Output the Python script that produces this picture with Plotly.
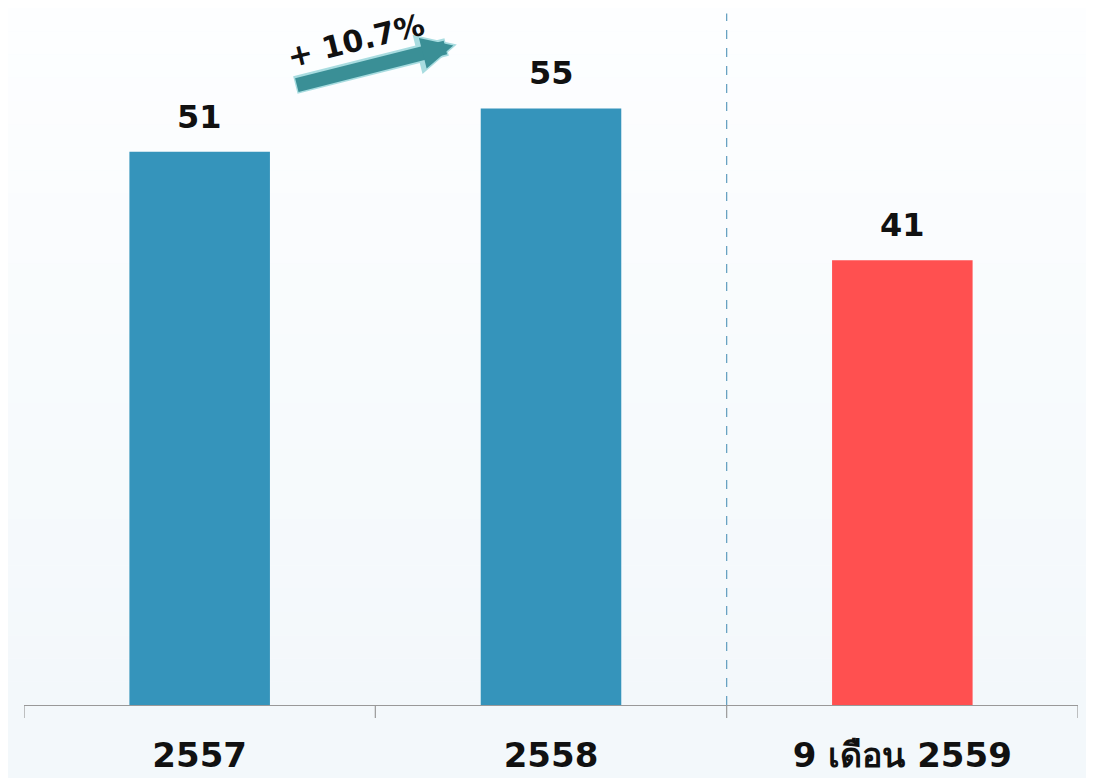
import plotly.graph_objects as go

categories = ["2557", "2558", "9 เดือน 2559"]
values = [51, 55, 41]
bar_colors = ["#3594BB", "#3594BB", "#FF5050"]
growth_label = "+ 10.7%"

FONT = "Tahoma, 'DejaVu Sans', 'Noto Sans', sans-serif"

fig = go.Figure()
fig.add_trace(go.Bar(
    x=list(range(len(categories))), y=values,
    marker=dict(color=bar_colors, line=dict(width=0)),
    width=0.4, hoverinfo="skip",
))

# value labels
for i, v in enumerate(values):
    fig.add_annotation(x=i, y=v, text=f"<b>{v}</b>", showarrow=False,
                       yanchor="bottom", yshift=14,
                       font=dict(family=FONT, size=32, color="#111111"))

# background gradient
n = 30
top = (253, 254, 255)
bot = (243, 248, 251)
for k in range(n):
    t = k / (n - 1)
    c = tuple(round(top[j] + (bot[j] - top[j]) * t) for j in range(3))
    fig.add_shape(type="rect", xref="paper", yref="paper",
                  x0=-0.05, x1=1.05, y0=1 - (k + 1) / n, y1=1 - k / n,
                  fillcolor=f"rgb{c}", line=dict(width=0), layer="below")
fig.add_shape(type="rect", xref="paper", yref="paper", x0=-0.05, x1=1.05,
              y0=-0.2, y1=0, fillcolor=f"rgb{bot}", line=dict(width=0), layer="below")

# dashed separator
fig.add_shape(type="line", xref="x", yref="paper", x0=1.5, x1=1.5, y0=0, y1=0.992,
              line=dict(color="#5E9CBE", width=1.2, dash="dash"), layer="above")

# growth arrow (outline + fill)
fig.add_annotation(x=0.732, y=60.9, ax=-163, ay=41, xref="x", yref="y",
                   showarrow=True, arrowhead=2, arrowsize=0.45, arrowwidth=18,
                   arrowcolor="#A8DCE0", text="", standoff=0)
fig.add_annotation(x=0.722, y=60.8, ax=-158, ay=40, xref="x", yref="y",
                   showarrow=True, arrowhead=2, arrowsize=0.45, arrowwidth=14,
                   arrowcolor="#3A8F96", text="", standoff=0)
fig.add_annotation(x=0.446, y=61.25, text=f"<b>{growth_label}</b>", showarrow=False,
                   textangle=-14, font=dict(family=FONT, size=30, color="#111111"))

fig.update_layout(
    width=1094, height=778,
    margin=dict(l=16, r=24, t=0, b=81),
    paper_bgcolor="#F8FBFD", plot_bgcolor="rgba(0,0,0,0)",
    showlegend=False, bargap=0.6,
    xaxis=dict(
        tickmode="array", tickvals=list(range(len(categories))),
        ticktext=[f"<b>{c}</b>" for c in categories],
        range=[-0.5, len(categories) - 0.5],
        showline=True, linecolor="#999999", linewidth=1.2,
        ticks="", showgrid=False, zeroline=False, ticklabelstandoff=20,
        tickfont=dict(family=FONT, size=34, color="#111111"),
    ),
    yaxis=dict(range=[0, 64.26], visible=False, showgrid=False, zeroline=False),
)

# boundary tick marks
for b in [-0.5, 0.5, 1.5, 2.5]:
    fig.add_shape(type="line", xref="x", yref="paper", x0=b, x1=b, y0=0, y1=-0.0186,
                  line=dict(color="#999999", width=1.2))

fig.write_html("out.html")
